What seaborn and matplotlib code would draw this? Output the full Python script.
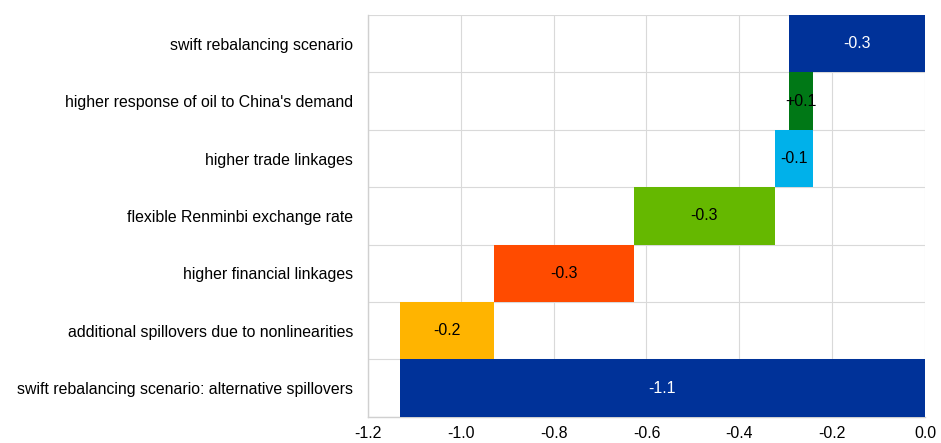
import numpy as np
import pandas as pd
import matplotlib
matplotlib.use("Agg")
import matplotlib.pyplot as plt
import seaborn as sns

# Waterfall decomposition of the scenario impact
categories = [
    "swift rebalancing scenario",
    "higher response of oil to China's demand",
    "higher trade linkages",
    "flexible Renminbi exchange rate",
    "higher financial linkages",
    "additional spillovers due to nonlinearities",
    "swift rebalancing scenario: alternative spillovers",
]
# contribution of each step (the last entry is the total)
contributions = [-0.293, 0.051, -0.082, -0.302, -0.302, -0.203, -1.131]
is_total = [True, False, False, False, False, False, True]
bar_colors = ["#003299", "#007816", "#00B1EA", "#65B800", "#FF4B00", "#FFB400", "#003299"]
label_colors = ["white", "black", "black", "black", "black", "black", "white"]
x_ticks = [-1.2, -1.0, -0.8, -0.6, -0.4, -0.2, 0.0]

# starting point of each bar: totals start at zero, steps continue the running sum
starts = []
running = 0.0
for c, tot in zip(contributions, is_total):
    if tot:
        starts.append(0.0)
        running = c
    else:
        starts.append(running)
        running += c

df = pd.DataFrame({"category": categories, "value": contributions})

sns.set_theme(style="white")
plt.rcParams["font.family"] = ["Liberation Sans", "DejaVu Sans"]

FS = 11.4

fig = plt.figure(figsize=(9.41, 4.43), dpi=100)
ax = fig.add_axes([0.391, 0.059, 0.592, 0.907])

sns.barplot(
    data=df, x="value", y="category", hue="category",
    hue_order=categories, order=categories,
    palette=bar_colors, legend=False, width=1.0, dodge=False,
    saturation=1.0, linewidth=0, ax=ax, zorder=3,
)

# shift each bar to its waterfall start
for patch, s in zip(ax.patches, starts):
    patch.set_x(s)

for i, (s, c) in enumerate(zip(starts, contributions)):
    ax.text(s + c / 2, i, f"{c:+.1f}" if c > 0 else f"{c:.1f}",
            ha="center", va="center", fontsize=FS, color=label_colors[i], zorder=4)

ax.set_xlim(-1.2, 0.0)
ax.set_ylim(6.5, -0.5)
ax.set_xticks(x_ticks)
ax.set_xticklabels([f"{t:.1f}" for t in x_ticks], fontsize=FS, color="black")
ax.set_yticks(range(len(categories)))
ax.set_yticklabels(categories, fontsize=FS, color="black")
ax.set_yticks(np.arange(-0.5, len(categories), 1.0), minor=True)
ax.tick_params(axis="y", which="both", length=0, pad=10.5)
ax.tick_params(axis="x", length=0, pad=6.5)
ax.set_xlabel("")
ax.set_ylabel("")

ax.grid(axis="x", which="major", color="#d9d9d9", linewidth=0.8, zorder=0)
ax.grid(axis="y", which="minor", color="#d9d9d9", linewidth=0.8, zorder=0)
ax.grid(axis="y", which="major", visible=False)
ax.set_axisbelow(True)

for side in ["top", "right"]:
    ax.spines[side].set_visible(False)
for side in ["left", "bottom"]:
    ax.spines[side].set_color("#d0d0d0")
    ax.spines[side].set_linewidth(1.0)

fig.savefig("out.png", dpi=100)
